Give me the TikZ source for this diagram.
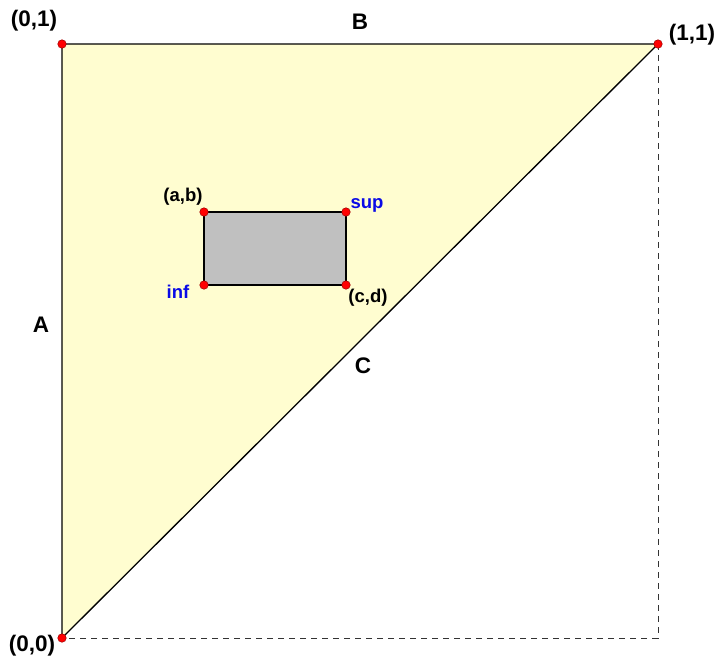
\documentclass[tikz,border=0pt]{standalone}
\usepackage{fontspec}
\setmainfont{Liberation Sans}
\begin{document}
\begin{tikzpicture}[x=1pt,y=-1pt,
  dot/.style={circle,fill=red,draw=red!60!black,line width=0.5pt,inner sep=0pt,minimum size=8.5pt},
  biglbl/.style={font=\bfseries\fontsize{22.5}{22.5}\selectfont,inner sep=0pt},
  smalllbl/.style={font=\bfseries\fontsize{18.5}{18.5}\selectfont,inner sep=0pt},
  bluelbl/.style={smalllbl,text={rgb,255:red,10;green,10;blue,230}},
  edgeline/.style={line width=1.3pt,black},
  guideline/.style={dash pattern=on 6pt off 5pt,line width=0.7pt,black!80}]
\useasboundingbox (0,0) rectangle (717,657);
\definecolor{tri}{RGB}{255,253,208}
\definecolor{boxgray}{RGB}{192,192,192}
\coordinate (O) at (62,638);
\coordinate (P) at (62,44);
\coordinate (Q) at (658,44);
\coordinate (R) at (658,638);
\coordinate (AB) at (204,212);
\coordinate (SUP) at (346,212);
\coordinate (CD) at (346,285);
\coordinate (INF) at (204,285);
\fill[tri] (O) -- (P) -- (Q) -- cycle;
\draw[guideline] (Q) -- (R) -- (O);
\draw[edgeline,line join=round] (O) -- (P) -- (Q) -- cycle;
\draw[edgeline,fill=boxgray] (AB) -- (SUP) -- (CD) -- (INF) -- cycle;
\foreach \p in {O,P,Q,AB,SUP,CD,INF} \node[dot] (d\p) at (\p) {};
\node[biglbl] (l01) at (34,21) {(0,1)};
\node[biglbl] (lB) at (360,22) {B};
\node[biglbl] (l11) at (692,35) {(1,1)};
\node[biglbl] (lA) at (41,325) {A};
\node[biglbl] (lC) at (363,366) {C};
\node[biglbl] (l00) at (32,646) {(0,0)};
\node[smalllbl] (lab) at (183,197) {(a,b)};
\node[bluelbl,anchor=base] (lsup) at (367,208) {sup};
\node[bluelbl,anchor=base] (linf) at (178,298) {inf};
\node[smalllbl] (lcd) at (368,298) {(c,d)};
\end{tikzpicture}
\end{document}
